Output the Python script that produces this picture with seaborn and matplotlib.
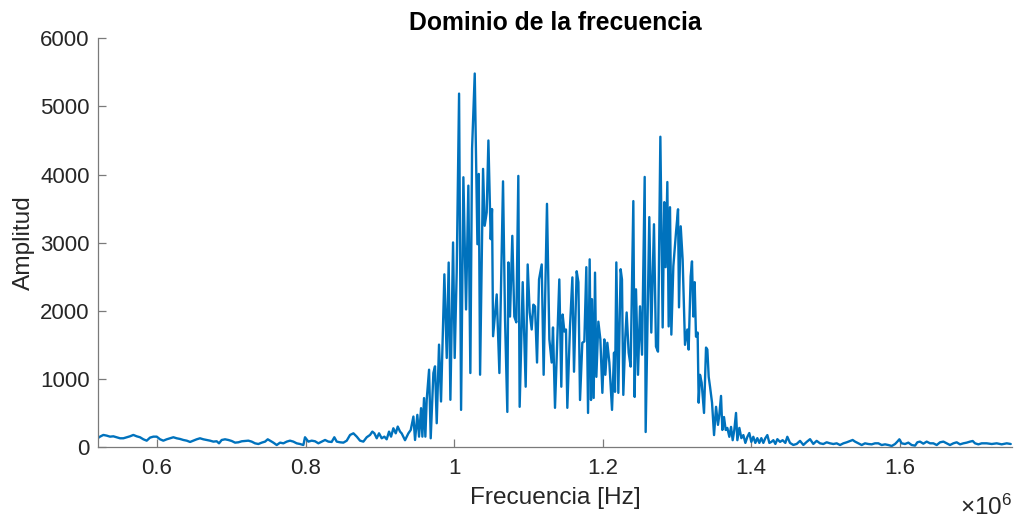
import numpy as np
import pandas as pd
import seaborn as sns
import matplotlib.pyplot as plt
from matplotlib.ticker import FuncFormatter

sns.set_style('ticks')
plt.rcParams['font.family'] = ['Liberation Sans', 'DejaVu Sans']
plt.rcParams['mathtext.fontset'] = 'custom'
plt.rcParams['mathtext.rm'] = 'Liberation Sans'

# -----------------------------
# Data (frequency in kHz, amplitude)
# -----------------------------
# low baseline, 0.52 - 0.93 MHz
freq_low = [518.7, 523.2, 527.7, 532.2, 536.7, 541.2, 545.7, 550.2, 554.7, 559.2,
            563.6, 568.1, 572.6, 577.1, 581.6, 586.1, 590.6, 595.1, 599.6, 604.1,
            608.5, 613.0, 617.5, 622.0, 626.5, 631.0, 635.5, 640.0, 644.5, 648.9,
            653.4, 657.9, 662.4, 666.9, 671.4, 675.9, 680.4, 683.5, 687.1, 691.6,
            696.1, 700.6, 705.1, 709.6, 714.1, 718.6, 723.0, 727.5, 732.0, 736.5,
            741.0, 745.5, 749.1, 752.2, 756.7, 761.2, 765.7, 770.2, 774.7, 779.1,
            783.6, 788.1, 792.6, 797.1, 799.3, 803.8, 808.3, 812.8, 817.3, 821.8,
            826.3, 830.8, 835.2, 838.8, 842.0, 846.5, 851.0, 855.5, 860.0, 864.5,
            869.0, 873.4, 877.9, 882.4, 886.9, 890.0, 892.7, 895.9, 899.0, 902.6,
            906.2, 909.3, 912.5, 915.2, 918.3, 921.5, 924.2, 927.3]
amp_low = [118, 152, 177, 167, 152, 157, 143, 128, 128, 143,
           157, 177, 157, 143, 113, 93, 138, 152, 152, 113,
           93, 113, 128, 143, 128, 118, 103, 93, 74, 93,
           113, 128, 113, 103, 93, 79, 84, 54, 103, 113,
           103, 88, 64, 69, 84, 88, 93, 79, 54, 44,
           64, 79, 113, 93, 64, 29, 64, 54, 79, 93,
           79, 54, 44, 29, 143, 79, 93, 84, 54, 79,
           103, 79, 74, 143, 79, 69, 64, 93, 177, 201,
           152, 93, 79, 143, 177, 226, 201, 128, 201, 128,
           152, 113, 226, 152, 275, 201, 300, 226]

# signal band, 0.93 - 1.49 MHz
freq_band = [929.5, 934.0, 938.5, 941.7, 945.3, 947.5, 950.6, 952.9, 955.6, 957.4,
             959.6, 961.4, 963.2, 966.4, 968.6, 972.2, 974.4, 976.7, 979.8, 982.5,
             987.0, 990.2, 992.8, 995.1, 998.7, 1000.9, 1003.6, 1006.8, 1009.5, 1012.6,
             1016.2, 1019.3, 1022.0, 1024.3, 1027.9, 1031.5, 1033.3, 1035.1, 1039.1, 1041.3,
             1044.0, 1046.3, 1049.4, 1051.2, 1052.6, 1057.5, 1061.1, 1066.0, 1068.7, 1071.8,
             1073.2, 1075.4, 1078.5, 1081.2, 1083.9, 1086.6, 1088.4, 1092.5, 1096.5, 1099.2,
             1101.9, 1104.6, 1106.8, 1109.1, 1111.8, 1114.5, 1118.1, 1120.7, 1125.2, 1128.4,
             1131.5, 1133.3, 1136.0, 1138.7, 1141.8, 1144.5, 1146.3, 1148.6, 1150.8, 1152.6,
             1156.2, 1159.4, 1161.6, 1165.2, 1167.5, 1169.7, 1172.8, 1175.5, 1178.2, 1180.5,
             1182.7, 1184.5, 1185.8, 1188.1, 1189.9, 1191.7, 1194.4, 1197.1, 1199.8, 1202.4,
             1203.8, 1206.5, 1209.2, 1212.8, 1215.5, 1216.8, 1218.6, 1221.3, 1224.4, 1226.2,
             1228.0, 1230.7, 1232.5, 1235.2, 1237.9, 1241.5, 1243.3, 1245.1, 1247.8, 1250.5,
             1253.2, 1256.8, 1258.1, 1260.4, 1263.0, 1265.7, 1269.3, 1272.0, 1274.7, 1277.9,
             1281.0, 1283.2, 1285.0, 1287.3, 1289.1, 1290.9, 1292.7, 1295.4, 1299.0, 1301.7,
             1303.0, 1305.3, 1307.9, 1311.1, 1314.2, 1316.0, 1318.7, 1320.5, 1322.3, 1324.1,
             1325.9, 1328.1, 1329.5, 1331.3, 1333.5, 1336.7, 1339.4, 1341.2, 1343.0, 1344.8,
             1347.5, 1350.2, 1352.9, 1355.5, 1357.3, 1359.6, 1361.4, 1363.6, 1365.9, 1368.1,
             1370.8, 1373.1, 1375.3, 1377.5, 1379.8, 1381.6, 1384.3, 1387.0, 1389.7, 1392.4,
             1395.1, 1397.7, 1400.4, 1403.1, 1405.8, 1408.5, 1411.2, 1413.9, 1416.6, 1419.3,
             1422.0, 1424.7, 1427.4, 1430.1, 1432.8, 1435.5, 1439.1, 1442.6, 1446.2, 1448.9,
             1452.5, 1457.0, 1461.5, 1466.0, 1470.5, 1475.0, 1479.5, 1483.9, 1488.4]
amp_band = [200, 100, 200, 250, 447, 103, 472, 152, 570, 152,
            718, 152, 693, 1135, 128, 1086, 1184, 349, 1503, 668,
            2535, 1307, 2708, 693, 3003, 1307, 2560, 5188, 545, 3960,
            2019, 3837, 1086, 4378, 5483, 2977, 4009, 1061, 4083, 3248,
            3445, 4500, 3051, 3493, 1626, 2240, 1086, 3900, 1870, 515,
            2710, 1915, 3100, 1915, 1830, 3980, 590, 2420, 885, 2680,
            1975, 1725, 2090, 2065, 1240, 2460, 2680, 1060, 3570, 1580,
            1240, 1755, 575, 1475, 2460, 885, 1945, 1695, 1725, 575,
            1770, 2490, 1105, 2580, 2420, 690, 1530, 1550, 2640, 500,
            2755, 690, 2170, 720, 2560, 1030, 1840, 1580, 795, 1580,
            1060, 1530, 1240, 545, 1385, 810, 2710, 795, 2610, 2460,
            765, 1620, 1975, 1385, 1180, 3610, 735, 2315, 1060, 2065,
            1355, 3965, 220, 1680, 3375, 1680, 3270, 1475, 1400, 4555,
            1755, 3595, 2640, 3890, 1770, 3520, 1650, 2655, 3155, 3490,
            2050, 3240, 2755, 1500, 1725, 1430, 2505, 2725, 1915, 2420,
            1620, 1680, 650, 1060, 945, 500, 1460, 1430, 1030, 885,
            650, 175, 590, 325, 470, 750, 250, 440, 250, 280,
            150, 295, 100, 250, 500, 100, 280, 130, 175, 60,
            150, 205, 75, 150, 60, 130, 60, 130, 60, 130,
            175, 60, 75, 100, 45, 115, 75, 100, 60, 150,
            60, 30, 45, 90, 30, 75, 115, 45, 90]

# high tail, 1.49 - 1.75 MHz
freq_tail = [1492.9, 1497.4, 1501.9, 1506.4, 1510.9, 1515.4, 1519.9, 1524.4, 1528.9, 1533.3,
             1536.9, 1540.1, 1544.6, 1549.1, 1553.5, 1558.0, 1562.5, 1567.0, 1571.5, 1576.0,
             1580.5, 1585.0, 1589.5, 1594.0, 1597.1, 1599.8, 1602.9, 1607.4, 1611.9, 1616.4,
             1620.9, 1624.0, 1627.6, 1632.1, 1636.6, 1641.1, 1645.6, 1650.1, 1654.6, 1659.1,
             1663.6, 1668.0, 1672.5, 1677.0, 1681.5, 1686.0, 1690.5, 1695.0, 1698.6, 1701.7,
             1706.2, 1710.7, 1717.4, 1724.2, 1730.9, 1737.6, 1744.4, 1749.8]
amp_tail = [54, 44, 69, 54, 44, 54, 29, 54, 69, 88,
            103, 79, 54, 29, 54, 44, 39, 54, 54, 29,
            39, 29, 15, 44, 79, 113, 54, 44, 64, 29,
            20, 69, 79, 49, 79, 54, 54, 29, 69, 79,
            54, 29, 54, 69, 39, 54, 64, 79, 88, 54,
            39, 54, 54, 44, 54, 39, 54, 44]

x_ticks = [0.6, 0.8, 1.0, 1.2, 1.4, 1.6]   # x 10^6 Hz
y_ticks = [0, 1000, 2000, 3000, 4000, 5000, 6000]

df = pd.DataFrame({
    'FREQ': np.array(freq_low + freq_band + freq_tail) * 1e3,
    'AMP': amp_low + amp_band + amp_tail,
})

# -----------------------------
# Plot
# -----------------------------
text_col = '#262626'
axis_col = '#7a7a7a'

fig = plt.figure(figsize=(10.15, 5.21), dpi=100)
ax = fig.add_axes([98 / 1015, 1 - 447 / 521, 914 / 1015, 408.7 / 521])

sns.lineplot(data=df, x='FREQ', y='AMP', estimator=None, sort=False,
             color='#0072BD', linewidth=1.7, ax=ax)

ax.set_xlim(520.5e3, 1751.5e3)
ax.set_ylim(0, 6000)
ax.set_xticks([t * 1e6 for t in x_ticks])
ax.set_yticks(y_ticks)
ax.xaxis.set_major_formatter(FuncFormatter(lambda v, _: f'{v / 1e6:g}'))

sns.despine(ax=ax)
for side in ['left', 'bottom']:
    ax.spines[side].set_color(axis_col)
    ax.spines[side].set_linewidth(0.9)

ax.tick_params(axis='both', direction='in', length=6, width=0.9, color=axis_col,
               labelcolor=text_col, labelsize=16)
ax.tick_params(axis='x', pad=8)
ax.tick_params(axis='y', pad=6)

ax.set_title('Dominio de la frecuencia', fontsize=17.8, fontweight='bold',
             color='black', pad=6)
ax.set_xlabel('Frecuencia [Hz]', fontsize=17.6, color=text_col, labelpad=6)
ax.set_ylabel('Amplitud', fontsize=17.6, color=text_col, labelpad=4)

fig.text(1012 / 1015, 6 / 521, r'$\mathregular{\times10^{6}}$', ha='right',
         va='baseline', fontsize=17.5, color=text_col)

fig.savefig('out.png', dpi=100)
